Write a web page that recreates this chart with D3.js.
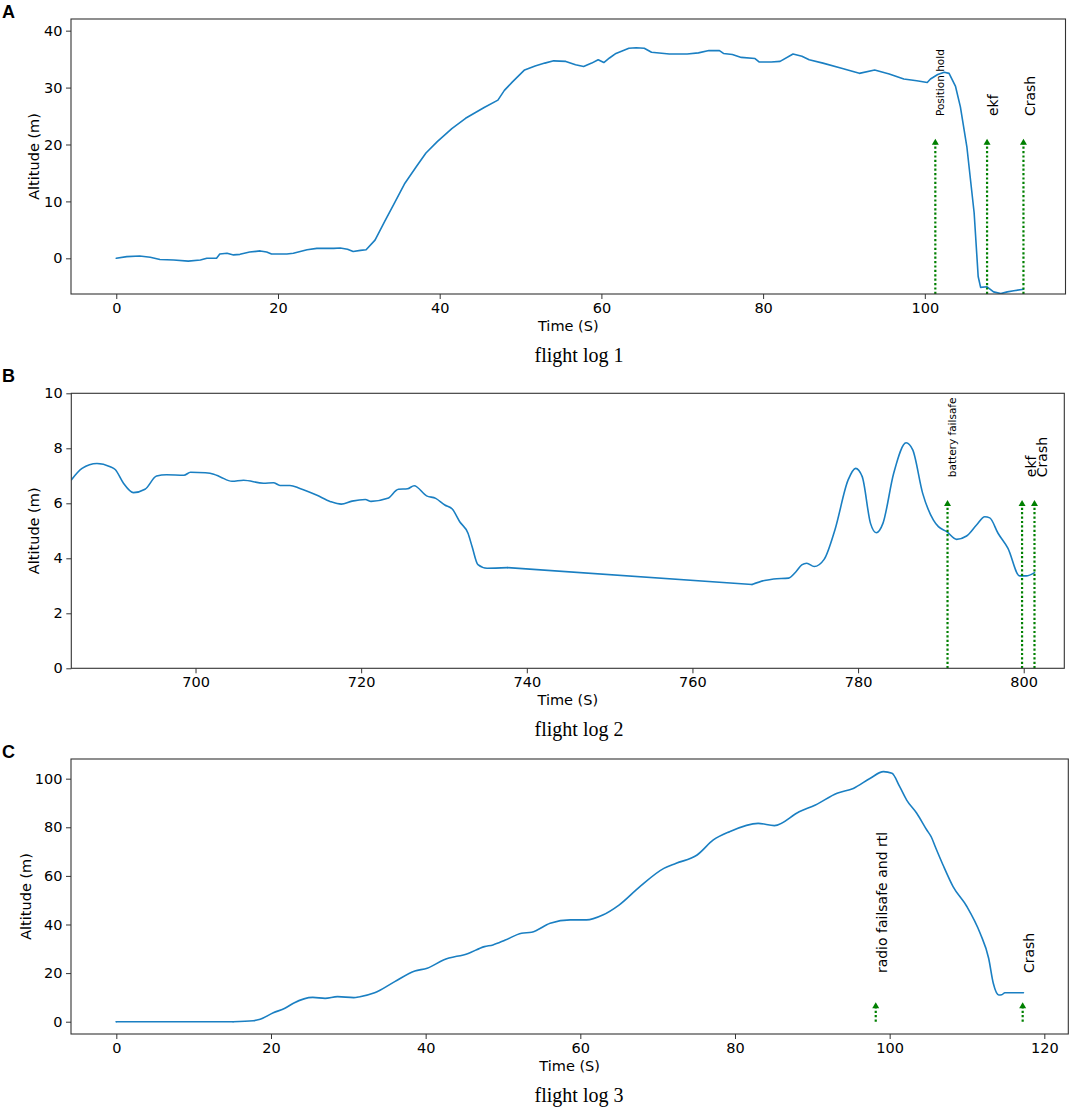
<!DOCTYPE html>
<html>
<head>
<meta charset="utf-8">
<script src="https://cdn.jsdelivr.net/npm/d3@7"></script>
<style>
  html, body { margin: 0; padding: 0; background: #fff; }
  svg { display: block; }
</style>
</head>
<body>
<svg id="chart" width="1070" height="1107"></svg>
<script>
// ---------------- DATA ----------------
// Flight log 1 (panel A)
const timeA = [0, 1.3, 2.9, 4.2, 5.4, 7.1, 8.9, 10.4, 11.2, 12.4, 12.8, 13.7, 14.5, 15.3, 16.5, 17.8, 18.6, 19.2, 21.1, 21.9,
  23.6, 24.8, 26.9, 27.7, 28.6, 29.3, 30.2, 30.9, 32.0, 33.2, 34.4, 35.7, 37.1, 38.3, 39.7, 41.5, 43.2, 45.5, 47.2, 48.0,
  49.0, 50.5, 51.8, 53.0, 54.1, 55.6, 56.8, 57.8, 58.8, 59.6, 60.3, 61.0, 61.8, 63.4, 64.3, 65.3, 66.2, 68.4, 70.6, 72.0,
  73.3, 74.6, 75.1, 76.2, 77.3, 79.0, 79.5, 81.0, 82.1, 83.7, 84.8, 85.7, 87.4, 89.7, 91.9, 93.8, 95.6, 97.4, 99.0, 100.3,
  100.7, 101.6, 102.4, 103.0, 103.8, 104.4, 105.2, 106.1, 106.6, 106.9, 107.7, 108.5, 109.4, 110.2, 111.0, 112.2];
const altA = [0, 0.3, 0.4, 0.2, -0.2, -0.3, -0.5, -0.3, 0.0, 0.0, 0.75, 0.9, 0.6, 0.7, 1.1, 1.3, 1.1, 0.75, 0.75, 0.9,
  1.5, 1.75, 1.75, 1.8, 1.6, 1.2, 1.4, 1.5, 3.2, 6.5, 9.7, 13.2, 16.1, 18.5, 20.5, 22.8, 24.6, 26.5, 27.8, 29.5,
  31.0, 33.1, 33.8, 34.3, 34.7, 34.6, 34.0, 33.7, 34.3, 34.9, 34.4, 35.2, 36.0, 36.9, 37.0, 36.9, 36.2, 35.9, 35.9, 36.1,
  36.5, 36.5, 36.0, 35.8, 35.3, 35.1, 34.5, 34.5, 34.6, 35.9, 35.5, 34.9, 34.3, 33.4, 32.5, 33.1, 32.4, 31.5, 31.2, 30.9,
  31.5, 32.3, 32.7, 32.5, 30.2, 26.6, 19.6, 8.0, -3.2, -5.1, -5.0, -5.9, -6.2, -5.9, -5.7, -5.45];
const eventTimeA = [101.3, 107.7, 112.2];
const eventLabelA = ["Position hold", "ekf", "Crash"];
const eventSizeA = [10.5, 14, 14];

// Flight log 2 (panel B)
const timeB = [685, 686.3, 688.1, 689.7, 690.3, 691.3, 692.5, 693.9, 695.3, 696.5, 698.6, 699.4, 701.2, 702.2, 703.0,
  704.4, 705.8, 708.2, 709.4, 710.2, 711.4, 712.6, 714.6, 716.3, 717.6, 718.9, 720.5, 721.2, 723.2, 724.5,
  725.6, 726.4, 727.9, 729.0, 730.1, 731.0, 731.9, 732.9, 733.4, 734.1, 735.2, 737.7, 767.2, 768.7, 769.8,
  771.6, 772.5, 773.2, 773.8, 774.7, 775.9, 777.2, 778.8, 779.7, 780.5, 781.5, 782.2, 783.0, 784.3, 785.8,
  786.6, 787.8, 789.1, 789.7, 790.7, 791.9, 793.1, 794.3, 795.3, 795.9, 796.9, 798.1, 799.5, 800.3, 801.3];
const altB = [6.85, 7.27, 7.45, 7.33, 7.23, 6.73, 6.39, 6.51, 6.99, 7.04, 7.02, 7.13, 7.11, 7.06, 6.96,
  6.80, 6.84, 6.73, 6.75, 6.65, 6.65, 6.54, 6.30, 6.06, 5.97, 6.08, 6.14, 6.07, 6.18, 6.51,
  6.53, 6.64, 6.27, 6.18, 5.94, 5.79, 5.33, 4.91, 4.42, 3.77, 3.64, 3.66, 3.05, 3.19, 3.25,
  3.28, 3.51, 3.76, 3.82, 3.70, 3.96, 5.03, 6.85, 7.27, 6.97, 5.27, 4.93, 5.27, 7.09, 8.20,
  7.94, 6.36, 5.39, 5.15, 4.97, 4.69, 4.81, 5.21, 5.51, 5.47, 4.91, 4.36, 3.36, 3.36, 3.48];
const eventTimeB = [790.8, 799.8, 801.3];
const eventLabelB = ["battery failsafe", "ekf", "Crash"];
const eventSizeB = [10.5, 14, 14];

// Flight log 3 (panel C)
const timeC = [0, 15.1, 17.7, 18.6, 20.3, 21.8, 22.9, 25.4, 27.0, 28.6, 30.7, 31.5, 33.4, 36.0, 38.6, 40.2, 42.3, 45.5,
  47.6, 48.7, 50.3, 52.4, 53.7, 56.1, 58.7, 60.8, 62.9, 65.0, 67.7, 70.8, 72.4, 75.1, 77.2, 79.3, 83.0, 85.1,
  88.3, 90.4, 93.2, 95.3, 97.5, 99.2, 100.3, 101.3, 102.2, 103.5, 104.8, 105.4, 105.9, 106.9, 108.2, 110.0,
  111.7, 112.8, 113.4, 114.1, 114.5, 114.9, 117.3];
const altC = [0, 0, 0.4, 1.0, 3.7, 5.5, 7.6, 10.0, 9.6, 10.3, 9.9, 10.3, 11.9, 16.5, 20.9, 22.0, 25.4, 28.1,
  30.9, 31.6, 33.6, 36.4, 36.8, 40.5, 41.9, 41.9, 43.9, 48.0, 55.6, 63.1, 65.2, 68.6, 74.8, 78.2, 81.6, 80.7,
  86.4, 89.2, 94.0, 96.0, 100.2, 102.9, 102.2, 96.7, 91.2, 85.8, 78.9, 75.9, 72.0, 64.5, 55.6, 47.3,
  36.4, 26.1, 15.8, 11.0, 11.1, 11.9, 11.9];
const eventTimeC = [98.2, 117.2];
const eventLabelC = ["radio failsafe and rtl", "Crash"];
const eventSizeC = [14, 14];

const ticksXA = [0, 20, 40, 60, 80, 100];
const ticksYA = [0, 10, 20, 30, 40];
const ticksXB = [700, 720, 740, 760, 780, 800];
const ticksYB = [0, 2, 4, 6, 8, 10];
const ticksXC = [0, 20, 40, 60, 80, 100, 120];
const ticksYC = [0, 20, 40, 60, 80, 100];

const panelLetters = ["A", "B", "C"];
const captions = ["flight log 1", "flight log 2", "flight log 3"];
const xLabel = "Time (S)";
const yLabel = "Altitude (m)";

// ---------------- LAYOUT ----------------
const panels = [
  { letter: panelLetters[0], caption: captions[0], t: timeA, v: altA, smooth: false,
    ev: eventTimeA, evl: eventLabelA, evs: eventSizeA, arrowFrom: -6.27, arrowTip: 21, textY: 25,
    xd: [-5.6, 117.4], yd: [-6.27, 42.05], box: { l: 71, r: 1065.5, t: 19, b: 294 },
    xt: ticksXA, yt: ticksYA, ylabX: 39, letterY: 18 },
  { letter: panelLetters[1], caption: captions[1], t: timeB, v: altB, smooth: true,
    ev: eventTimeB, evl: eventLabelB, evs: eventSizeB, arrowFrom: 0, arrowTip: 6.12, textY: 6.95,
    xd: [685, 804.9], yd: [0, 10], box: { l: 71.3, r: 1064.3, t: 393.3, b: 668.3 },
    xt: ticksXB, yt: ticksYB, ylabX: 39, letterY: 382, textShift: [0, 0.35, 0.2] },
  { letter: panelLetters[2], caption: captions[2], t: timeC, v: altC, smooth: true,
    ev: eventTimeC, evl: eventLabelC, evs: eventSizeC, arrowFrom: 0, arrowTip: 8, textY: 20,
    xd: [-5.86, 123.1], yd: [-5.06, 108.1], box: { l: 71, r: 1068.3, t: 759, b: 1034 },
    xt: ticksXC, yt: ticksYC, ylabX: 31, letterY: 758 }
];

const svg = d3.select("#chart");
const SANS = "'DejaVu Sans', sans-serif";
const LINE = "#1a7fc2";
const GREEN = "#008000";
const SPINE = "#333";
const AXFONT = "14.5px";

panels.forEach((p, i) => {
  const g = svg.append("g");
  const x = d3.scaleLinear().domain(p.xd).range([p.box.l, p.box.r]);
  const y = d3.scaleLinear().domain(p.yd).range([p.box.b, p.box.t]);

  // axes
  const xAxis = d3.axisBottom(x).tickValues(p.xt).tickSize(5).tickPadding(3.5).tickSizeOuter(0);
  const yAxis = d3.axisLeft(y).tickValues(p.yt).tickSize(5).tickPadding(3.5).tickSizeOuter(0);
  const gx = g.append("g").attr("transform", `translate(0,${p.box.b})`).call(xAxis);
  const gy = g.append("g").attr("transform", `translate(${p.box.l},0)`).call(yAxis);
  [gx, gy].forEach(ax => {
    ax.select(".domain").remove();
    ax.selectAll(".tick line").attr("stroke", SPINE).attr("stroke-width", 1);
    ax.selectAll(".tick text").attr("fill", "#000").style("font-family", SANS).style("font-size", AXFONT);
  });

  // clip
  const clipId = "clip" + i;
  g.append("clipPath").attr("id", clipId).append("rect")
    .attr("x", p.box.l).attr("y", p.box.t)
    .attr("width", p.box.r - p.box.l).attr("height", p.box.b - p.box.t);

  // data line: split at logging gaps (>10 s) which are drawn as straight segments
  const pts = p.t.map((d, k) => [d, p.v[k]]);
  const pieces = [];
  let cur = [pts[0]];
  for (let k = 1; k < pts.length; k++) {
    if (pts[k][0] - pts[k - 1][0] > 10) {
      pieces.push({ pts: cur, curve: p.smooth ? d3.curveMonotoneX : d3.curveLinear });
      pieces.push({ pts: [pts[k - 1], pts[k]], curve: d3.curveLinear });
      cur = [pts[k]];
    } else {
      cur.push(pts[k]);
    }
  }
  pieces.push({ pts: cur, curve: p.smooth ? d3.curveMonotoneX : d3.curveLinear });
  pieces.forEach(pc => {
    const line = d3.line().x(d => x(d[0])).y(d => y(d[1])).curve(pc.curve);
    g.append("path").datum(pc.pts)
      .attr("clip-path", `url(#${clipId})`)
      .attr("d", line).attr("fill", "none")
      .attr("stroke", LINE).attr("stroke-width", 1.6)
      .attr("stroke-linejoin", "round").attr("stroke-linecap", "round");
  });

  // event arrows + labels
  p.ev.forEach((et, k) => {
    const ax = x(et);
    g.append("line")
      .attr("x1", ax).attr("x2", ax)
      .attr("y1", y(p.arrowFrom)).attr("y2", y(p.arrowTip) + 5)
      .attr("stroke", GREEN).attr("stroke-width", 2.2)
      .attr("stroke-dasharray", "2.2,2.2");
    g.append("path")
      .attr("d", `M${ax - 3.5},${y(p.arrowTip) + 6} L${ax},${y(p.arrowTip)} L${ax + 3.5},${y(p.arrowTip) + 6} Z`)
      .attr("fill", GREEN);
    const fs = p.evs[k];
    const shift = p.textShift ? p.textShift[k] : 0;
    const tx = x(et + shift) + 0.8 * fs;
    const ty = y(p.textY);
    g.append("text")
      .attr("transform", `translate(${tx},${ty}) rotate(-90)`)
      .attr("text-anchor", "start")
      .style("font-family", SANS).style("font-size", fs + "px")
      .attr("fill", "#000")
      .text(p.evl[k]);
  });

  // frame
  g.append("rect")
    .attr("x", p.box.l).attr("y", p.box.t)
    .attr("width", p.box.r - p.box.l).attr("height", p.box.b - p.box.t)
    .attr("fill", "none").attr("stroke", SPINE).attr("stroke-width", 1.1);

  // axis labels
  const cx = (p.box.l + p.box.r) / 2;
  g.append("text").attr("x", cx).attr("y", p.box.b + 36.5)
    .attr("text-anchor", "middle")
    .style("font-family", SANS).style("font-size", AXFONT)
    .text(xLabel);
  g.append("text")
    .attr("transform", `translate(${p.ylabX},${(p.box.t + p.box.b) / 2}) rotate(-90)`)
    .attr("text-anchor", "middle")
    .style("font-family", SANS).style("font-size", AXFONT)
    .text(yLabel);

  // caption
  g.append("text").attr("x", 579).attr("y", p.box.b + 68)
    .attr("text-anchor", "middle")
    .style("font-family", "'Liberation Serif', 'Times New Roman', serif").style("font-size", "20px")
    .text(p.caption);

  // panel letter
  g.append("text").attr("x", 2).attr("y", p.letterY)
    .style("font-family", "'Liberation Sans', Arial, sans-serif")
    .style("font-size", "18px").style("font-weight", "bold")
    .text(p.letter);
});
</script>
</body>
</html>
